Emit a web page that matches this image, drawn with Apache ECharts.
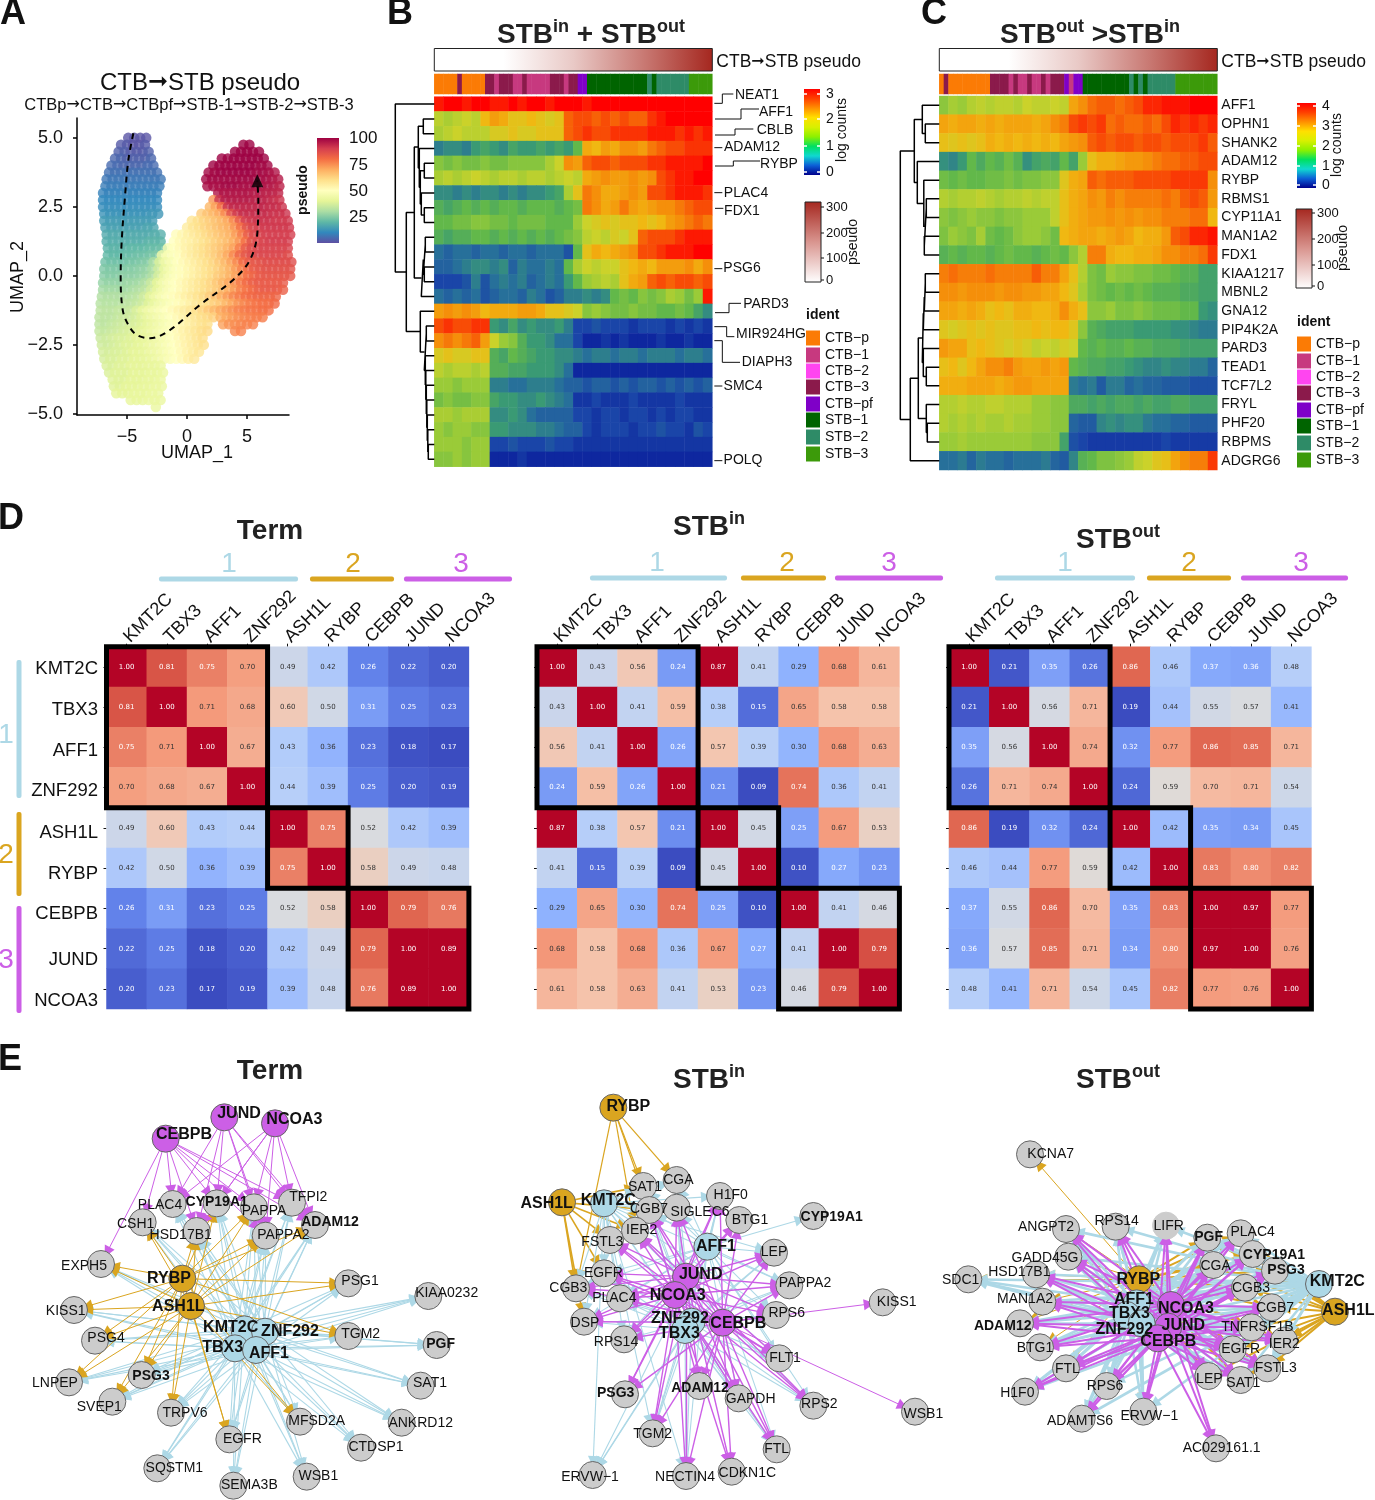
<!DOCTYPE html>
<html><head><meta charset="utf-8">
<style>html,body{margin:0;padding:0;background:#fff}#c{width:1375px;height:1500px}</style>
<script src="https://cdn.jsdelivr.net/npm/echarts@6/dist/echarts.min.js"></script>
</head><body><div id="c"></div>
<script>
// ---------- Panel A: UMAP cells, rows of [y, xStart, pseudo values at x step 0.5]
const umapRows = [
[5,-4.9,1,1,1,1],
[4.75,-5.5,2,2,1,1,2],[4.75,4.7,100,100],
[4.5,-5.7,3,3,2,2,2,3],[4.5,4,100,100,100,100,100],
[4.25,-6,4,4,3,3,3,3,4],[4.25,2.9,100,100,100,100,100,100,100,100],
[4,-6.3,5,5,4,4,4,4,5,5],[4,2.2,100,100,100,100,100,100,100,100,99,99],
[3.75,-6.5,6,6,6,6,6,6,6,6,6],[3.75,1.8,99,99,100,100,100,100,100,100,99,99,98,97],
[3.5,-6.7,7,7,7,7,7,7,7,7,7,7],[3.5,1.6,99,99,99,99,99,99,99,99,99,98,98,97,96],
[3.25,-6.8,8,8,8,8,8,8,8,8,8,8],[3.25,1.7,98,98,98,99,99,99,98,98,98,97,97,96,95],
[3,-7,9,9,9,9,9,9,9,9,9,9],[3,2.6,97,97,97,97,97,97,96,96,95,95,94],
[2.75,-7,10,10,10,10,10,10,10,10,10,10],[2.75,2.2,74,92,96,96,96,96,96,95,95,94,93,92],
[2.5,-7,11,11,11,11,11,11,11,11,11,11],[2.5,1.9,68,72,80,92,94,94,94,94,94,94,93,93,92],
[2.25,-6.9,12,12,12,12,12,12,12,12,13,13],[2.25,1.2,64,66,68,71,76,86,91,93,93,93,93,93,92,92,92],
[2,-6.9,14,14,14,14,14,14,14,14,14],[2,0.4,58,60,62,64,66,68,71,76,84,90,91,92,92,92,91,91,91],
[1.75,-6.8,15,15,15,15,15,15,15,16,16],[1.75,0,56,58,60,62,64,66,68,70,74,80,86,89,90,91,91,91,91,91],
[1.5,-6.7,17,17,17,17,17,17,17,17,18,18],[1.5,-0.9,51,53,55,57,59,61,63,65,67,69,73,78,84,88,89,90,90,90,90,90],
[1.25,-6.7,18,18,18,18,18,18,18,19,19,19],[1.25,-1.1,50,52,54,55,57,59,61,63,65,67,70,74,80,86,88,89,90,90,90,90],
[1,-6.6,19,19,19,19,20,20,20,21,21,22,47,50,52,54,56,58,60,62,64,66,69,72,78,84,87,88,89,89,89,89,89],
[0.75,-6.6,20,20,20,21,21,22,22,23,24,44,47,49,51,54,56,58,60,62,64,67,71,76,82,85,87,88,88,88,88,88,87],
[0.5,-6.8,22,22,22,22,23,23,24,25,30,38,44,47,50,52,54,56,58,60,62,65,68,72,76,81,84,85,86,87,87,87,87,87],
[0.25,-6.9,24,24,24,24,25,25,26,27,30,36,42,46,49,51,53,55,57,59,61,63,66,69,73,77,81,84,85,86,86,86,86,86],
[0,-6.9,25,25,25,26,26,26,27,28,31,37,43,47,49,51,53,55,57,59,61,64,66,69,72,76,80,82,84,85,85,85,85,85],
[-0.25,-7,27,27,27,27,28,28,29,31,35,40,45,48,50,52,54,56,58,60,62,65,68,71,75,78,81,83,84,84,84,84,84],
[-0.5,-7,29,29,29,29,29,30,31,33,37,41,45,48,50,52,54,56,58,60,62,64,67,70,73,77,79,81,83,84,84,84,83],
[-0.75,-7.1,31,31,31,31,31,32,33,36,40,44,47,49,51,53,55,57,59,61,64,67,70,73,76,78,80,81,82,82,82,82],
[-1,-7.2,32,32,32,32,33,33,34,36,39,42,45,47,49,51,53,55,57,59,61,63,65,68,71,74,76,78,79,80,80,81],
[-1.25,-7.2,33,33,33,34,34,35,38,41,44,46,48,50,52,54,56,58,60,62,65,68,71,73,75,77,78,79,79,80,80],
[-1.5,-7.3,33,33,33,34,35,36,37,39,42,44,46,48,50,52,54,56,58,60,61,63],[-1.5,2.8,69,71,73,75,76,77,78,78],
[-1.75,-7.3,33,33,34,35,36,37,38,39,41,43,45,47,49,51,53,55,57,59,60],[-1.75,3,72,74,75,76,77,77],
[-2,-7.3,34,34,35,36,37,38,39,40,42,44,46,48,50,52,54,56,58,60,61],[-2,4,76,77],
[-2.25,-7.2,35,36,37,38,38,39,40,41,42,44,46,48,50,52,54,56,58,60],
[-2.5,-7.1,36,36,37,38,39,39,40,41,43,44,46,48,50,52,54,56,58,60],
[-2.75,-7,37,37,38,38,39,40,40,41,43,44,46,48,50,52,54,56,58],
[-3,-6.9,37,38,38,39,39,40,40,41,42,44,46,48,50,52,55,57],
[-3.25,-6.7,38,38,39,39,40,40,40,41,41,42],
[-3.5,-6.5,38,39,39,39,40,40,40,41,41,42],
[-3.75,-6.2,39,39,39,40,40,40,41,41,42],
[-4,-6.1,39,39,40,40,40,41,41,42,42],
[-4.25,-5.9,40,40,40,41,41,41,42,42],
[-4.5,-4.7,41,41,41,42,42,42],
[-4.75,-2.6,42]];
const trajectory = [[-4.47,5.17],[-4.89,4.2],[-5.17,2.87],[-5.44,1.3],[-5.53,-0.02],[-5.36,-1.23],[-4.89,-1.78],[-4.19,-2.14],[-3.08,-2.26],[-1.42,-1.96],[1.08,-1.05],[3.86,-0.14],[5.25,0.58],[5.86,1.55],[5.94,2.75],[5.86,3.45]];
const spectral = ['#5e4fa2','#3288bd','#5fb8a6','#abdda4','#e6f598','#ffffbf','#fee08b','#fdae61','#f46d43','#d53e4f','#9e0142'];

// ---------- Panels B, C: expression heatmaps
const genesB = ['NEAT1','AFF1','CBLB','ADAM12','RYBP','g6','PLAC4','FDX1','g9','g10','g11','PSG6','g13','g14','PARD3','MIR924HG','DIAPH3','g18','g19','SMC4','g21','g22','g23','g24','POLQ'];
const heatB = [
[2.9,3,3,2.9,3,3,2.9,2.9,3,2.9,3,3,2.9,3,3,3,2.9,3,3,3,3,3,3,3,3,3,3,3,3,3],
[1.7,1.6,1.7,1.8,1.7,2.1,2.3,2.2,2.0,2.0,2.1,2.0,1.9,2.0,2.6,2.7,2.7,2.6,2.7,2.6,2.7,2.6,2.6,2.8,2.9,3,3,3,3,3],
[1.6,1.7,1.8,1.7,1.7,1.7,1.9,1.9,2.0,1.9,1.9,2.0,2.0,2.0,2.6,2.7,2.8,2.7,2.7,2.8,2.8,2.8,2.8,2.9,2.9,2.9,2.8,2.9,2.8,2.9],
[.7,.8,.8,.7,.9,1.0,.9,.8,1.0,.9,.9,1.0,.9,1.0,.9,1.2,2.2,2.1,2.3,2.2,2.4,2.4,2.3,2.5,2.6,2.7,2.7,2.8,2.8,2.8],
[1.4,1.3,1.4,1.3,1.3,1.4,1.3,1.3,1.4,1.4,1.4,1.4,1.6,1.8,2.4,2.3,2.6,2.7,2.7,2.6,2.7,2.7,2.7,2.8,2.8,2.9,2.9,2.9,2.9,3],
[1.6,1.7,1.6,1.7,1.8,1.7,1.6,1.7,1.7,1.6,1.7,1.7,1.6,1.7,1.8,1.7,2.2,2.3,2.4,2.3,2.3,2.4,2.3,2.4,2.7,2.8,2.9,2.9,3,3],
[.8,.8,.7,.8,.7,.8,.8,.7,.8,.7,.8,.8,.9,1.0,1.6,2.0,2.5,2.4,2.2,2.2,2.3,2.4,2.3,2.7,2.7,2.8,2.9,2.9,2.9,2.8],
[1.1,1.0,1.1,1.2,1.1,1.2,1.1,1.2,1.2,1.1,1.2,1.2,1.2,1.1,1.2,1.3,2.5,2.4,2.2,2.3,2.5,2.3,2.2,2.3,2.4,2.4,2.5,2.6,2.7,2.7],
[1.2,1.2,1.3,1.3,1.4,1.4,1.3,1.3,1.2,1.3,1.3,1.3,1.2,1.2,1.2,1.5,1.8,1.9,2.0,1.9,2.0,2.0,2.1,2.0,2.1,2.3,2.4,2.5,2.6,2.5],
[1.1,1.0,1.1,1.1,1.2,1.2,1.1,1.2,1.1,1.2,1.1,1.2,1.1,1.2,1.3,1.4,1.7,1.8,1.7,1.9,1.8,2.0,2.6,2.7,2.7,2.7,2.8,2.9,2.9,2.9],
[.6,.5,.6,.6,.5,.6,.6,.5,.6,.6,.5,.6,.6,.6,.4,1.2,2.0,2.2,2.1,2.2,2.3,2.4,2.7,2.7,2.8,2.9,2.9,2.9,3,3],
[.5,.5,.6,.7,.8,.8,.7,.8,.5,.7,.6,.6,.7,.6,1.2,1.6,1.8,1.7,1.8,1.8,2.0,2.1,2.2,2.1,2.3,2.3,2.3,2.4,2.2,2.4],
[.3,.3,.3,.4,.7,.4,.6,.7,.6,.7,.5,.6,.7,.6,.9,1.2,1.5,1.6,1.7,1.6,2.0,2.2,2.3,2.6,2.7,2.6,2.7,2.7,2.6,2.7],
[.6,.5,.6,.5,.6,.4,.5,.6,.6,.5,.7,.6,.4,.5,.7,.7,.8,.7,.8,1.2,1.3,1.2,1.4,1.3,1.4,1.6,1.5,1.3,1.5,2.9],
[2.3,2.4,2.3,2.4,2.3,2.1,2.2,2.2,2.2,2.3,2.3,2.2,2.0,2.0,1.9,1.8,1.4,1.5,1.4,1.3,1.3,1.4,1.3,1.3,1.2,1.2,1.3,1.2,1.0,.8],
[2.7,2.8,2.7,2.7,2.8,2.8,.9,.8,1.0,.8,.9,.8,.8,.9,.7,.3,.3,.4,.3,.3,.3,.2,.3,.3,.3,.2,.3,.2,.3,.2],
[2.4,2.5,2.4,2.5,2.6,2.3,1.8,1.5,1.4,1.1,.9,.9,.8,.6,.6,.3,.1,.1,.2,.1,.2,.1,.1,.1,.2,.1,.1,.2,.1,.1],
[1.9,2.0,1.9,1.9,2.0,2.0,1.1,1.0,1.2,1.1,1.0,.9,.9,.8,.8,.7,.6,.7,.7,.6,.7,.7,.6,.7,.7,.7,.6,.7,.7,.6],
[1.7,1.6,1.7,1.7,1.6,1.7,1.1,1.1,1.0,1.0,.9,.9,.9,.8,.6,.1,.1,.1,.1,.1,.1,.1,.1,.1,.1,.1,.1,.1,.1,.1],
[1.5,1.5,1.4,1.5,1.5,1.5,.7,.7,.6,.6,.7,.7,.7,.6,.5,.5,.4,.5,.5,.4,.5,.4,.5,.5,.4,.5,.4,.5,.4,.5],
[1.3,1.4,1.3,1.3,1.4,1.4,1.0,.9,.9,.8,.8,.9,.8,.7,.6,.2,.2,.3,.2,.2,.2,.3,.2,.2,.2,.2,.3,.2,.2,.2],
[1.6,1.6,1.5,1.6,1.6,1.6,.8,.8,.9,.8,.6,.5,.5,.5,.5,.3,.3,.2,.3,.3,.2,.3,.3,.2,.3,.2,.3,.3,.2,.2],
[1.5,1.4,1.5,1.5,1.4,1.4,.9,.9,.8,.8,.8,.7,.7,.6,.5,.5,.3,.2,.3,.3,.3,.2,.3,.3,.4,.3,.3,.2,.4,.3],
[1.5,1.5,1.5,1.4,1.5,1.5,.3,.3,.4,.3,.3,.3,.4,.3,.3,.2,.2,.2,.2,.2,.2,.2,.2,.2,.2,.2,.2,.2,.2,.2],
[1.4,1.4,1.5,1.4,1.5,1.5,.1,.1,.1,.2,.1,.1,.1,.1,.1,.1,.1,.1,.1,.1,.1,.1,.1,.1,.1,.1,.1,.1,.1,.1]];
const genesC = ['AFF1','OPHN1','SHANK2','ADAM12','RYBP','RBMS1','CYP11A1','MAN1A2','FDX1','KIAA1217','MBNL2','GNA12','PIP4K2A','PARD3','TEAD1','TCF7L2','FRYL','PHF20','RBPMS','ADGRG6'];
const heatC = [
[1.9,2.1,2.0,2.2,2.3,2.2,2.3,2.3,2.2,2.4,2.3,2.3,2.4,2.3,3.0,3.2,3.4,3.5,3.5,3.4,3.5,3.6,3.8,3.8,3.9,3.9,3.9,4,4,4],
[3.0,2.9,3.0,3.0,2.9,3.0,2.9,3.0,3.0,3.0,2.9,3.0,3.2,3.3,3.6,3.7,3.6,3.7,3.4,3.5,3.4,3.4,3.5,3.4,3.6,3.8,3.7,3.8,3.7,3.8],
[2.7,2.6,2.7,2.6,2.7,2.9,2.8,2.9,2.8,2.9,2.8,2.9,2.8,3.0,3.1,3.2,3.5,3.6,3.5,3.6,3.6,3.5,3.6,3.6,3.5,3.6,3.6,3.6,3.7,3.5],
[1.1,1.0,1.2,1.6,1.4,1.6,1.5,1.7,1.5,1.1,1.3,1.4,1.3,1.6,1.3,2.0,2.7,2.9,2.9,3.0,3.1,3.1,3.2,3.3,3.4,3.4,3.5,3.5,3.6,3.6],
[1.7,1.6,1.7,1.6,1.6,1.7,1.7,1.8,1.7,1.8,1.8,1.9,1.9,2.6,2.9,3.0,3.5,3.4,3.5,3.5,3.5,3.6,3.6,3.6,3.6,3.7,3.7,3.7,3.7,3.2],
[2.2,2.1,2.2,2.2,2.3,2.2,2.1,2.2,2.2,2.3,2.2,2.3,2.3,2.7,2.9,3.0,3.2,3.1,3.3,3.2,3.3,3.3,3.3,3.3,3.4,3.3,3.5,3.6,3.5,3.1],
[1.9,1.8,1.9,2.0,1.9,1.9,1.8,1.9,1.9,2.0,2.0,2.0,2.3,2.7,2.9,3.0,3.1,3.1,3.2,3.1,3.2,3.1,3.2,3.2,3.3,3.3,3.3,3.4,3.4,2.8],
[1.8,2.0,1.9,1.8,2.1,1.7,1.6,1.7,1.9,2.0,2.0,1.9,1.7,2.8,2.9,3.0,3.0,2.9,3.0,3.1,3.0,2.8,2.9,2.9,3.1,3.5,3.6,3.8,3.8,3.9],
[1.5,1.6,1.5,1.6,1.6,1.5,1.6,1.7,1.6,1.6,1.5,1.6,1.7,1.6,1.9,2.2,3.3,3.3,2.9,2.8,2.8,2.9,2.9,3.0,3.2,3.2,3.3,3.3,3.4,3.7],
[3.3,3.4,3.3,3.3,3.3,3.4,3.3,3.3,3.3,3.3,3.5,3.3,3.3,3.0,2.7,2.2,1.8,1.7,2.0,1.9,1.9,1.8,1.8,1.7,1.7,1.6,1.5,1.5,1.3,1.3],
[3.2,3.2,3.1,3.2,3.2,3.2,3.1,3.2,3.2,3.1,3.1,3.0,3.0,2.8,2.6,2.1,1.8,1.7,1.6,1.7,1.6,1.7,1.6,1.5,1.5,1.5,1.4,1.4,1.3,1.3],
[3.0,3.0,2.9,3.0,2.9,2.7,2.8,2.7,2.9,2.9,2.8,2.8,2.9,3.2,2.9,2.7,1.9,1.9,2.0,1.8,1.8,1.9,1.8,1.7,1.7,1.7,1.6,1.6,1.2,1.1],
[2.6,2.5,2.6,2.7,2.6,2.7,2.6,2.6,2.7,2.7,2.8,2.7,2.8,2.8,2.6,1.9,1.5,1.4,1.3,1.3,1.3,1.2,1.2,1.2,1.2,1.1,1.1,1.0,.9,.9],
[3.1,3.0,3.0,2.7,2.8,2.7,2.6,2.5,2.6,2.5,2.3,2.4,2.3,2.5,2.4,1.6,1.5,1.6,1.5,1.5,1.6,1.5,1.5,1.4,1.4,1.4,1.3,1.3,1.3,1.3],
[2.7,2.8,2.6,2.8,3.0,3.2,3.2,3.3,3.1,3.0,3.0,3.1,3.0,3.1,1.6,1.5,1.4,1.4,1.3,1.3,1.2,1.1,1.0,1.0,1.1,1.0,1.0,.9,.9,.7],
[2.9,2.9,2.9,3.0,3.0,3.0,2.9,3.0,3.1,3.1,3.0,3.0,3.0,3.0,.9,.8,.9,.6,.9,.9,.7,.8,.7,.7,.6,.6,.6,.5,.5,.5],
[2.2,2.2,2.3,2.2,2.2,2.3,2.3,2.2,2.2,2.2,2.0,2.0,1.9,1.9,1.4,1.4,1.3,1.4,1.3,1.4,1.4,1.3,1.4,1.3,1.3,1.4,1.4,1.3,1.3,1.3],
[2.2,2.1,2.2,2.1,2.2,2.1,2.1,2.2,2.1,2.1,2.0,2.0,1.9,1.9,.7,.6,.6,1.0,1.1,1.0,1.1,1.1,.9,.8,.8,.7,.7,.6,.6,.6],
[2.0,2.0,2.1,2.0,2.0,2.0,2.0,2.0,2.0,2.0,1.9,1.9,1.9,1.3,.5,.4,.3,.3,.3,.3,.3,.3,.3,.3,.4,.3,.3,.3,.3,.3],
[.8,.8,.9,.7,.9,.8,.8,.7,.8,.8,.8,.9,.7,.6,1.0,1.5,1.6,1.8,1.8,1.9,2.0,2.3,2.4,2.6,2.7,3.0,3.2,3.3,3.3,3.7]];
const heatColors = ['#08189a','#1a45a8','#27709a','#3a9a74','#62b84a','#9acb38','#cbd22a','#f0b812','#f58f0a','#f84c06','#ff0000'];
const barStops = ['#00008b','#0c5fd6','#10d8d0','#00e060','#8cf000','#d8f000','#ffe000','#ff9000','#ff4000','#ff0000'];
const treeB = [39,0,[28,[20,[16,[11,1,2],[15,3,[14,[10,4,5],[13,6,[10,7,8]]]]],[13,[11,[9,9,10],[10,11,12]],13]],[14,14,[10,[8,15,16],[9,17,[8.5,18,[8,19,[7.5,20,[7,21,[6.5,22,[6,23,24]]]]]]]]]]];
const treeC = [39,[25,[17,0,[14,1,2]],[22,3,[15.5,4,[15,[13,5,6],[15,7,8]]]]],[29,[21,[17,[16,[15,[14,9,10],11],12],[16,13,[13,14,15]]],[13,16,[12,17,18]]],19]];
const identNames = ['CTB−p','CTB−1','CTB−2','CTB−3','CTB−pf','STB−1','STB−2','STB−3'];
const identColors = ['#fb7b05','#c7397f','#ff45f0','#8b1a4b','#7f00c8','#006400','#2e8b67','#3c9a0a'];
const identB = [0,0,0,0,0,3,0,0,0,0,0,3,3,1,3,3,3,1,1,3,1,1,1,1,1,3,3,3,1,3,3,4,4,5,5,5,5,5,5,5,5,5,5,5,5,5,6,5,6,6,6,6,6,6,6,7,7,7,7,7];
const identC = [0,3,0,0,0,0,0,0,0,0,0,3,3,3,3,1,3,1,1,3,1,1,3,1,3,3,3,4,1,4,4,5,5,5,5,5,5,5,5,5,5,6,5,6,5,6,6,6,6,6,6,7,7,7,7,7,7,7,7,7];

// ---------- Panel D: correlation matrices
const tfNames = ['KMT2C','TBX3','AFF1','ZNF292','ASH1L','RYBP','CEBPB','JUND','NCOA3'];
const corrTerm = [[1,.81,.75,.70,.49,.42,.26,.22,.20],[.81,1,.71,.68,.60,.50,.31,.25,.23],[.75,.71,1,.67,.43,.36,.23,.18,.17],[.70,.68,.67,1,.44,.39,.25,.20,.19],[.49,.60,.43,.44,1,.75,.52,.42,.39],[.42,.50,.36,.39,.75,1,.58,.49,.48],[.26,.31,.23,.25,.52,.58,1,.79,.76],[.22,.25,.18,.20,.42,.49,.79,1,.89],[.20,.23,.17,.19,.39,.48,.76,.89,1]];
const corrIn = [[1,.43,.56,.24,.87,.41,.29,.68,.61],[.43,1,.41,.59,.38,.15,.65,.58,.58],[.56,.41,1,.26,.57,.39,.30,.68,.63],[.24,.59,.26,1,.21,.09,.74,.36,.41],[.87,.38,.57,.21,1,.45,.25,.67,.53],[.41,.15,.39,.09,.45,1,.10,.27,.23],[.29,.65,.30,.74,.25,.10,1,.41,.46],[.68,.58,.68,.36,.67,.27,.41,1,.79],[.61,.58,.63,.41,.53,.23,.46,.79,1]];
const corrOut = [[1,.21,.35,.26,.86,.46,.37,.36,.48],[.21,1,.56,.71,.19,.44,.55,.57,.41],[.35,.56,1,.74,.32,.77,.86,.85,.71],[.26,.71,.74,1,.24,.59,.70,.71,.54],[.86,.19,.32,.24,1,.42,.35,.34,.45],[.46,.44,.77,.59,.42,1,.83,.80,.82],[.37,.55,.86,.70,.35,.83,1,.97,.77],[.36,.57,.85,.71,.34,.80,.97,1,.76],[.48,.41,.71,.54,.45,.82,.77,.76,1]];
const clusters = [[0,4],[4,6],[6,9]];
const coolwarm = ['#3b4cc0','#6282ea','#8db0fe','#b7cff9','#dddcdc','#f5c4ac','#f49a7b','#dd5f4b','#b40426'];

// ---------- Panel E: networks. node = [name, x, y, labelX, labelY, group, bold]
const netTerm = [['CEBPB',497,296,552,284,3],['JUND',673,232,717,222,3],['NCOA3',825,250,883,240,3],['PLAC4',518,492,480,495,0],['CYP19A1',650,490,650,485,0,1],['TFPI2',876,488,925,472,0],['PAPPA',762,502,792,514,0],['CSH1',428,547,407,552,0],['HSD17B1',590,573,542,585,0],['ADAM12',945,555,990,545,0,1],['PAPPA2',797,587,850,585,0],['EXPH5',303,672,252,678,0],['RYBP',547,716,507,716,2],['ASH1L',573,798,535,800,2],['PSG1',1045,730,1080,722,0],['KIAA0232',1285,768,1340,760,0],['KISS1',222,810,197,813,0],['PSG4',285,902,318,893,0],['TGM2',1045,888,1082,882,0],['PGF',1310,915,1322,912,0,1],['KMT2C',733,868,692,862,1],['ZNF292',795,875,870,875,1],['TBX3',705,925,668,922,1],['AFF1',768,930,807,940,1],['LNPEP',207,1027,165,1029,0],['PSG3',425,1005,453,1007,0,1],['SVEP1',337,1085,298,1100,0],['TRPV6',513,1118,555,1120,0],['SAT1',1262,1037,1290,1028,0],['MFSD2A',900,1145,950,1143,0],['ANKRD12',1205,1148,1262,1150,0],['EGFR',688,1198,727,1197,0],['CTDSP1',1083,1223,1128,1222,0],['SQSTM1',472,1285,523,1283,0],['WSB1',920,1310,955,1308,0],['SEMA3B',700,1337,748,1335,0]];
const netIn = [['RYBP',340,143,385,141,2],['ASH1L',186,427,140,431,2],['KMT2C',312,430,325,423,1],['SAT1',430,378,435,380,0],['CGA',530,360,535,360,0],['CGB7',448,450,447,448,0],['SIGLEC6',530,443,600,456,0],['H1F0',660,408,692,405,0],['BTG1',718,480,750,480,0],['CYP19A1',940,468,995,470,0,1],['IER2',405,512,425,510,0],['FSTL3',330,540,307,545,0],['AFF1',622,560,648,560,1],['LEP',822,578,822,575,0],['EGFR',312,640,310,638,0],['JUND',558,650,602,643,3],['PAPPA2',868,676,915,668,0],['CGB3',228,685,205,685,0],['PLAC4',360,715,343,715,0],['NCOA3',525,705,533,707,3],['KISS1',1148,727,1190,727,0],['RPS6',828,765,860,760,0],['DSP',252,785,255,790,0],['ZNF292',575,785,540,777,1],['TBX3',555,810,538,822,1],['CEBPB',668,788,715,790,3],['RPS14',372,838,348,845,0],['FLT1',838,895,855,895,0],['PSG3',375,1003,347,1000,0,1],['ADAM12',598,978,600,985,0,1],['GAPDH',716,1015,752,1017,0],['RPS2',940,1037,958,1032,0],['WSB1',1245,1055,1270,1062,0],['TGM2',458,1120,458,1122,0],['FTL',830,1168,830,1168,0],['ERVW−1',278,1245,270,1250,0],['NECTIN4',558,1248,555,1250,0],['CDKN1C',695,1235,742,1238,0]];
const netOut = [['KCNA7',300,283,362,282,0],['ANGPT2',408,507,348,500,0],['RPS14',557,500,560,484,0],['LIFR',708,497,716,499,0],['PGF',832,533,836,530,0,1],['PLAC4',932,520,968,515,0],['GADD45G',415,590,345,593,0],['CYP19A1',968,582,1032,585,0,1],['CGA',850,615,857,617,0],['PSG3',1035,632,1068,630,0,1],['HSD17B1',318,643,268,635,0],['SDC1',115,658,92,660,0],['RYBP',627,658,625,658,2],['KMT2C',1167,672,1222,664,1],['CGB3',945,683,963,685,0],['MAN1A2',337,725,285,716,0],['AFF1',620,730,612,720,1],['NCOA3',723,735,768,747,3],['CGB7',1025,742,1035,745,0],['ASH1L',1215,755,1255,752,2],['TBX3',590,765,598,762,1],['JUND',715,800,760,798,3],['ADAM12',270,790,218,797,0,1],['TNFRSF1B',965,802,982,802,0],['ZNF292',635,790,583,808,1],['IER2',1062,842,1063,853,0],['CEBPB',683,835,715,845,3],['BTG1',330,862,315,865,0],['EGFR',908,868,932,867,0],['FTL',408,925,412,927,0],['FSTL3',1012,925,1037,925,0],['LEP',835,948,838,957,0],['SAT1',932,960,940,968,0],['RPS6',530,978,525,978,0],['H1F0',285,995,262,998,0],['ERVW−1',640,1055,658,1068,0],['ADAMTS6',455,1076,450,1083,0],['AC029161.1',858,1165,875,1163,0]];
// edge groups: [sources, targets, group, width]
const edgesTerm = [
[['KMT2C','ZNF292','TBX3','AFF1'],['PLAC4','CYP19A1','TFPI2','PAPPA','CSH1','HSD17B1','ADAM12','PAPPA2','EXPH5','PSG1','KIAA0232','KISS1','PSG4','TGM2','PGF','LNPEP','PSG3','SVEP1','TRPV6','SAT1','MFSD2A','ANKRD12','EGFR','CTDSP1','SQSTM1','WSB1','SEMA3B'],1,1.1],
[['RYBP','ASH1L'],['CYP19A1','PAPPA','HSD17B1','ADAM12','PAPPA2','CSH1','EXPH5','PSG1','KISS1','PSG4','TGM2','LNPEP','PSG3','SVEP1','TRPV6','EGFR','MFSD2A'],2,1],
[['CEBPB','JUND','NCOA3'],['PLAC4','CYP19A1','TFPI2','PAPPA','HSD17B1','ADAM12','PAPPA2'],3,1],
[['CEBPB'],['CSH1','EXPH5'],3,1]];
const edgesIn = [
[['RYBP'],['SAT1','CGA','IER2','CGB7','CGB3'],2,1.2],
[['ASH1L'],['IER2','FSTL3','EGFR','CGB3','SAT1','CGB7','DSP'],2,1.6],
[['KMT2C','AFF1','ZNF292','TBX3'],['SAT1','CGA','CGB7','H1F0','SIGLEC6','LEP','PAPPA2','RPS6','EGFR','CGB3','PLAC4','DSP','RPS14','FLT1','RPS2','FTL','GAPDH','TGM2','NECTIN4','ERVW−1'],1,1.1],
[['AFF1'],['CYP19A1'],1,1.1],
[['JUND','NCOA3','CEBPB'],['SIGLEC6','CGB7','IER2','FSTL3','EGFR','PLAC4','CGB3','DSP','RPS14','PSG3','ADAM12','TGM2','GAPDH','FTL','NECTIN4','CDKN1C','FLT1','RPS2','RPS6','PAPPA2','LEP','BTG1','H1F0'],3,1.4],
[['CEBPB'],['KISS1','WSB1'],3,1]];
const edgesOut = [
[['RYBP'],['KCNA7','ANGPT2','GADD45G','HSD17B1','SDC1','MAN1A2','ADAM12','BTG1','FTL','ERVW−1'],2,1],
[['ASH1L','RYBP'],['PGF','PLAC4','CYP19A1','CGA','PSG3','CGB3','CGB7','IER2','TNFRSF1B','FSTL3','EGFR','SAT1','LEP'],2,2],
[['AFF1','TBX3','ZNF292','KMT2C'],['ANGPT2','GADD45G','HSD17B1','SDC1','MAN1A2','ADAM12','BTG1','FTL','H1F0','RPS14','LIFR','PGF','PLAC4','CGA','CYP19A1','PSG3','CGB3','CGB7','IER2','TNFRSF1B','EGFR','FSTL3','LEP','SAT1','RPS6','ERVW−1','ADAMTS6'],1,2.6],
[['NCOA3','JUND','CEBPB'],['ANGPT2','GADD45G','HSD17B1','MAN1A2','ADAM12','BTG1','FTL','H1F0','RPS14','LIFR','PGF','PLAC4','CGA','CYP19A1','PSG3','CGB3','CGB7','IER2','TNFRSF1B','EGFR','FSTL3','LEP','SAT1','RPS6','ERVW−1','ADAMTS6','AC029161.1'],3,2]];

// ---------- builders
const FF = "'Liberation Sans',Arial,sans-serif";
const groupColor = {0:'#cccccc',1:'#add8e6',2:'#daa520',3:'#cc5fe6'};
const grid=[],xAxis=[],yAxis=[],series=[],visualMap=[],G=[];
function addGrid(l,t,w,h,x,y){const g=grid.length;grid.push({left:l,top:t,width:w,height:h});
  return addAxes(g,x,y);}
function addAxes(g,x,y){xAxis.push(Object.assign({gridIndex:g},x));yAxis.push(Object.assign({gridIndex:g},y));return xAxis.length-1;}
function addSeries(s){series.push(Object.assign({animation:false,silent:true},s));return series.length-1;}
const hidVal=(min,max,inv)=>({type:'value',min,max,inverse:!!inv,show:false,splitLine:{show:false}});
const idx=n=>Array.from({length:n},(_,i)=>String(i));
function T(x,y,text,o={}){G.push({type:'text',x,y,rotation:o.rot||0,z:50,silent:true,style:{text,fontFamily:FF,fontSize:o.size||14,fontWeight:o.weight||'normal',fill:o.color||'#111',align:o.align||'left',verticalAlign:'middle',rich:o.rich}});}
function R(x,y,w,h,fill,o={}){G.push({type:'rect',z:o.z||40,silent:true,shape:{x,y,width:w,height:h,r:o.r||0},style:{fill,stroke:o.stroke||null,lineWidth:o.lw||1}});}
function L(pts,o={}){G.push({type:'polyline',z:o.z||45,silent:true,shape:{points:pts},style:{stroke:o.color||'#111',lineWidth:o.lw||1,fill:null}});}
const grad=(colors,x2,y2)=>new echarts.graphic.LinearGradient(0,0,x2,y2,colors.map((c,i)=>({offset:i/(colors.length-1),color:c})));
function arrowText(x,y,parts,size,arrow,arrowSize,o={}){
  const r={t:{fontSize:size,fontFamily:FF,fill:'#111'},ar:{fontSize:arrowSize,fontFamily:"'DejaVu Sans'",fill:'#111'}};
  T(x,y,parts.map(p=>`{t|${p}}`).join(`{ar|${arrow}}`),Object.assign({rich:r},o));
}

// ---------- Panel A
const ax = addGrid(77,118,212,297,
 {type:'value',min:-9.17,max:8.5,splitLine:{show:false},axisLine:{onZero:false,lineStyle:{color:'#000',width:1.5}},axisTick:{customValues:[-5,0,5],length:4,lineStyle:{color:'#000',width:1.5}},axisLabel:{customValues:[-5,0,5],fontFamily:FF,fontSize:18,color:'#111',margin:13,formatter:v=>String(v).replace('-','−')}},
 {type:'value',min:-5.04,max:5.72,splitLine:{show:false},axisLine:{onZero:false,lineStyle:{color:'#000',width:1.5}},axisTick:{customValues:[-5,-2.5,0,2.5,5],length:4,lineStyle:{color:'#000',width:1.5}},axisLabel:{customValues:[-5,-2.5,0,2.5,5],fontFamily:FF,fontSize:18,color:'#111',margin:14,formatter:v=>v.toFixed(1).replace('-','−')}});
const umapData=[];umapRows.forEach(r=>{for(let i=2;i<r.length;i++)umapData.push([r[1]+(i-2)*0.5,r[0],r[i]]);});
const sA=addSeries({type:'scatter',xAxisIndex:ax,yAxisIndex:ax,data:umapData,symbol:'circle',symbolSize:10.5,clip:false,z:2});
visualMap.push({type:'continuous',show:false,seriesIndex:sA,dimension:2,min:0,max:100,inRange:{color:spectral}});
addSeries({type:'line',xAxisIndex:ax,yAxisIndex:ax,data:trajectory,smooth:0.35,symbol:'none',lineStyle:{color:'#000',width:2,type:[6,5]},z:5});
addSeries({type:'scatter',xAxisIndex:ax,yAxisIndex:ax,data:[trajectory[trajectory.length-1]],symbol:'triangle',symbolSize:[12,13],itemStyle:{color:'#000'},z:6});
arrowText(200,83,['CTB','STB pseudo'],24,'➞',24,{align:'center'});
arrowText(189,105,['CTBp','CTB','CTBpf','STB-1','STB-2','STB-3'],16.5,'→',16,{align:'center'});
T(197,453,'UMAP_1',{size:18,align:'center'});
T(18,277,'UMAP_2',{size:18,align:'center',rot:Math.PI/2});
R(317,138,22,105,grad(spectral.slice().reverse(),0,1));
[['100',138],['75',165],['50',191],['25',217]].forEach(a=>T(349,a[1],a[0],{size:17}));
T(303,190,'pseudo',{size:14,weight:'bold',align:'center',rot:Math.PI/2});

// ---------- Panels B, C
function heatPanel(l,t,w,h,rows,names,vmax,tree,dendroW,identVals,showNames){
  const a=addGrid(l,t,w,h,{type:'category',data:idx(30),show:false},
    {type:'category',data:names,inverse:true,show:!!showNames,position:'right',axisLine:{show:false},axisTick:{show:false},axisLabel:{fontFamily:FF,fontSize:14,color:'#111',margin:4,interval:0}});
  const s=addSeries({type:'heatmap',xAxisIndex:a,yAxisIndex:a,data:rows.flatMap((r,j)=>r.map((v,i)=>[i,j,v])),progressive:0,itemStyle:{borderWidth:0}});
  visualMap.push({type:'continuous',show:false,seriesIndex:s,dimension:2,min:0,max:vmax,inRange:{color:heatColors}});
  const d=addGrid(l-dendroW,t,dendroW,h,hidVal(0,dendroW,true),hidVal(0,rows.length,true));
  const pts=[];
  (function walk(n){ if(typeof n==='number')return {y:n+0.5,h:0};
    const A=walk(n[1]),B=walk(n[2]);
    pts.push([A.h,A.y],[n[0],A.y],[n[0],B.y],[B.h,B.y],['-','-']);
    return {y:(A.y+B.y)/2,h:n[0]};})(tree);
  addSeries({type:'line',xAxisIndex:d,yAxisIndex:d,data:pts,symbol:'none',connectNulls:false,clip:false,lineStyle:{color:'#000',width:1.5}});
  const b=addGrid(l,74,w,20,{type:'category',data:idx(60),show:false},{type:'category',data:['id'],show:false});
  const si=addSeries({type:'heatmap',xAxisIndex:b,yAxisIndex:b,data:identVals.map((v,i)=>[i,0,v]),progressive:0});
  visualMap.push({type:'piecewise',show:false,seriesIndex:si,dimension:2,pieces:identColors.map((c,i)=>({value:i,color:c}))});
  R(l,48.5,w,22.5,grad(['#ffffff','#ffffff','#e9c9c6','#c97a74','#a5271f'],1,0),{stroke:'#222',lw:1});
  arrowText(l+w+4,62,['CTB','STB pseudo'],17.5,'➞',16);
}
heatPanel(434.3,96.7,278,370,heatB,genesB,3,treeB,40,identB,false);
heatPanel(939.3,96,278,374,heatC,genesC,4,treeC,40,identC,true);

function sup(x,y,parts){
  const r={a:{fontSize:28,fontWeight:'bold',fontFamily:FF,fill:'#222',lineHeight:34},b:{fontSize:18,fontWeight:'bold',fontFamily:FF,fill:'#222',verticalAlign:'top',lineHeight:26}};
  T(x,y,parts.map((p,i)=>`{${i%2?'b':'a'}|${p}}`).join(''),{align:'center',rich:r});
}
sup(591,35,['STB','in',' + STB','out']);
sup(1090,35,['STB','out',' >STB','in']);

const zb=(x,y)=>[385+x/3,y/3];
const leaders=[[[988,310],[1012,310],[1012,282],[1045,282]],[[990,357],[1068,357],[1068,327],[1122,327]],[[990,405],[1050,405],[1050,387],[1105,387]],[[988,443],[1012,443]],[[990,498],[1045,498],[1045,483],[1125,483]],[[988,578],[1012,578]],[[990,625],[1015,625]],[[988,806],[1012,806]],[[990,938],[1032,938],[1032,910],[1068,910]],[[988,980],[1025,980],[1025,1010],[1048,1010]],[[988,1022],[1012,1022],[1012,1087],[1065,1087]],[[988,1158],[1012,1158]],[[988,1382],[1012,1382]]];
leaders.forEach(p=>L(p.map(q=>zb(q[0],q[1])),{lw:1}));
[['NEAT1',757,95],['AFF1',776,112],['CBLB',775,130],['ADAM12',752,147],['RYBP',779,164],['PLAC4',746,193],['FDX1',742,211],['PSG6',742,268],['PARD3',766,304],['MIR924HG',771,334],['DIAPH3',767,362],['SMC4',743,386],['POLQ',743,460]].forEach(a=>T(a[1],a[2],a[0],{size:14,align:'center'}));

function legends(c){
  R(c.x1,c.y1,c.w1,c.h1,grad(barStops.slice().reverse(),0,1));
  c.ticks1.forEach(a=>{T(c.x1+c.w1+c.lab1,a[1],a[0],{size:14});
    const yy=a[1];L([[c.x1,yy],[c.x1+3,yy]],{color:'#fff',lw:1.5});L([[c.x1+c.w1-3,yy],[c.x1+c.w1,yy]],{color:'#fff',lw:1.5});});
  T(c.lc[0],c.lc[1],'log counts',{size:14,align:'center',rot:Math.PI/2});
  R(c.x2,c.y2,c.w2,c.h2,grad(['#a5271f','#d9958f','#ffffff'],0,1),{stroke:'#222',lw:1});
  c.ticks2.forEach(a=>{T(c.x2+c.w2+5,a[1],a[0],{size:13});L([[c.x2+c.w2,a[1]],[c.x2+c.w2+3,a[1]]],{lw:1});});
  T(c.pc[0],c.pc[1],'pseudo',{size:14,align:'center',rot:Math.PI/2});
  T(c.x3,c.idY,'ident',{size:14,weight:'bold'});
  c.ys.forEach((y,i)=>{R(c.x3,y-7.5,14,15,identColors[i]);T(c.x3+19,y,identNames[i],{size:14});});
}
legends({x1:804,y1:89,w1:16,h1:86,lab1:6,ticks1:[['3',94],['2',119],['1',146],['0',172]],lc:[842,130],x2:805,y2:202,w2:16,h2:80,ticks2:[['300',207],['200',233],['100',258],['0',280]],pc:[853,242],x3:806,idY:315,ys:[338,355,371,387,404,420,437,454]});
legends({x1:1297,y1:103,w1:19,h1:85,lab1:6,ticks1:[['4',106],['3',126],['2',146],['1',166],['0',185]],lc:[1337,145],x2:1296,y2:209,w2:16,h2:79,ticks2:[['300',213],['200',239],['100',265],['0',286]],pc:[1343,248],x3:1297,idY:322,ys:[344,361,377,393,410,426,443,460]});

// ---------- Panel D
function corrPanel(l,m){
  const t=646.7,w=362.4,h=362.4;
  const a=addGrid(l,t,w,h,
   {type:'category',data:tfNames,position:'top',axisLine:{show:false},axisTick:{show:true,alignWithLabel:true,length:3,lineStyle:{color:'#111'}},axisLabel:{interval:0,rotate:45,fontFamily:FF,fontSize:18,color:'#111',margin:7}},
   {type:'category',data:tfNames,inverse:true,axisLine:{show:false},axisTick:{show:true,alignWithLabel:true,length:3,lineStyle:{color:'#111'}},axisLabel:{show:false}});
  const off=m.flatMap((r,j)=>r.filter((v,i)=>i!==j));
  const vmin=Math.min(...off),vmax=Math.max(...off);
  const data=m.flatMap((r,j)=>r.map((v,i)=>{const q=(v-vmin)/(vmax-vmin);return {value:[i,j,v],label:{color:(q>=.77||q<.25)?'#fff':'#333'}};}));
  const s=addSeries({type:'heatmap',xAxisIndex:a,yAxisIndex:a,data,progressive:0,label:{show:true,fontSize:7,fontFamily:"'DejaVu Sans',sans-serif",formatter:p=>p.value[2].toFixed(2)}});
  visualMap.push({type:'continuous',show:false,seriesIndex:s,dimension:2,min:vmin,max:vmax,inRange:{color:coolwarm}});
  const b=addAxes(grid.length-1,hidVal(0,9),hidVal(0,9,true));
  clusters.forEach(c=>addSeries({type:'line',xAxisIndex:b,yAxisIndex:b,clip:false,symbol:'none',z:8,
    data:[[c[0],c[0]],[c[1],c[0]],[c[1],c[1]],[c[0],c[1]],[c[0],c[0]]],lineStyle:{color:'#000',width:5,join:'miter',cap:'square'}}));
}
corrPanel(106.5,corrTerm);corrPanel(537,corrIn);corrPanel(949,corrOut);
T(270,531,'Term',{size:28,weight:'bold',align:'center',color:'#222'});
sup(709,527,['STB','in']);sup(1118,540,['STB','out']);
function groupBars(spans,nums,y){spans.forEach((s,i)=>{R(s[0],y-2.5,s[1]-s[0],5,groupColor[i+1],{r:2});T(nums[i],y-15,String(i+1),{size:28,align:'center',color:groupColor[i+1]});});}
groupBars([[159,298],[310,394],[404,512]],[229,353,461],579);
groupBars([[590,727],[741,826],[835,943]],[657,787,889],578);
groupBars([[995,1135],[1147,1231],[1241,1348]],[1065,1189,1301],578);
[[660,798,735],[812,896,855],[906,1013,960]].forEach((s,i)=>{R(16.5,s[0],5,s[1]-s[0],groupColor[i+1],{r:2});T(6,s[2],String(i+1),{size:28,align:'center',color:groupColor[i+1]});});
[['KMT2C',669],['TBX3',710],['AFF1',751],['ZNF292',791],['ASH1L',833],['RYBP',874],['CEBPB',914],['JUND',960],['NCOA3',1001]].forEach(a=>T(98,a[1],a[0],{size:18.5,align:'right'}));

// ---------- Panel E
function netPanel(l,t,w,h,nodes,edges){
  const a=addGrid(l,t,w,h,hidVal(0,w*3),hidVal(0,h*3,true));
  const links=[];
  edges.forEach(e=>e[0].forEach(s=>e[1].forEach(d=>links.push({source:s,target:d,lineStyle:{color:groupColor[e[2]],width:e[3],opacity:1}}))));
  const data=nodes.map(n=>({name:n[0],value:[n[1],n[2]],symbolSize:27,
    itemStyle:{color:groupColor[n[5]],borderColor:n[0]==='LIFR'?'#cccccc':'#666',borderWidth:1},
    label:{show:true,position:'inside',formatter:n[0],offset:[(n[3]-n[1])/3,(n[4]-n[2])/3],fontFamily:FF,color:'#111',
      fontSize:n[5]?16:(n[6]?14:14),fontWeight:(n[5]||n[6])?'bold':'normal'}}));
  addSeries({type:'graph',coordinateSystem:'cartesian2d',xAxisIndex:a,yAxisIndex:a,layout:'none',roam:false,data,links,edgeSymbol:['none','triangle'],edgeSymbolSize:[0,11],z:3});
}
netPanel(0,1040,500,460,netTerm,edgesTerm);
netPanel(500,1060,460,440,netIn,edgesIn);
netPanel(930,1060,445,440,netOut,edgesOut);
T(270,1071,'Term',{size:28,weight:'bold',align:'center',color:'#222'});
sup(709,1080,['STB','in']);sup(1118,1080,['STB','out']);

// panel letters
[['A',0,14],['B',387,14],['C',921,14],['D',-2,519],['E',-2,1060]].forEach(a=>T(a[1],a[2],a[0],{size:36,weight:'bold'}));

const chart=echarts.init(document.getElementById('c'),null,{renderer:'canvas',width:1375,height:1500});
chart.setOption({animation:false,backgroundColor:'#fff',grid,xAxis,yAxis,visualMap,series,graphic:{elements:G}});
</script></body></html>
